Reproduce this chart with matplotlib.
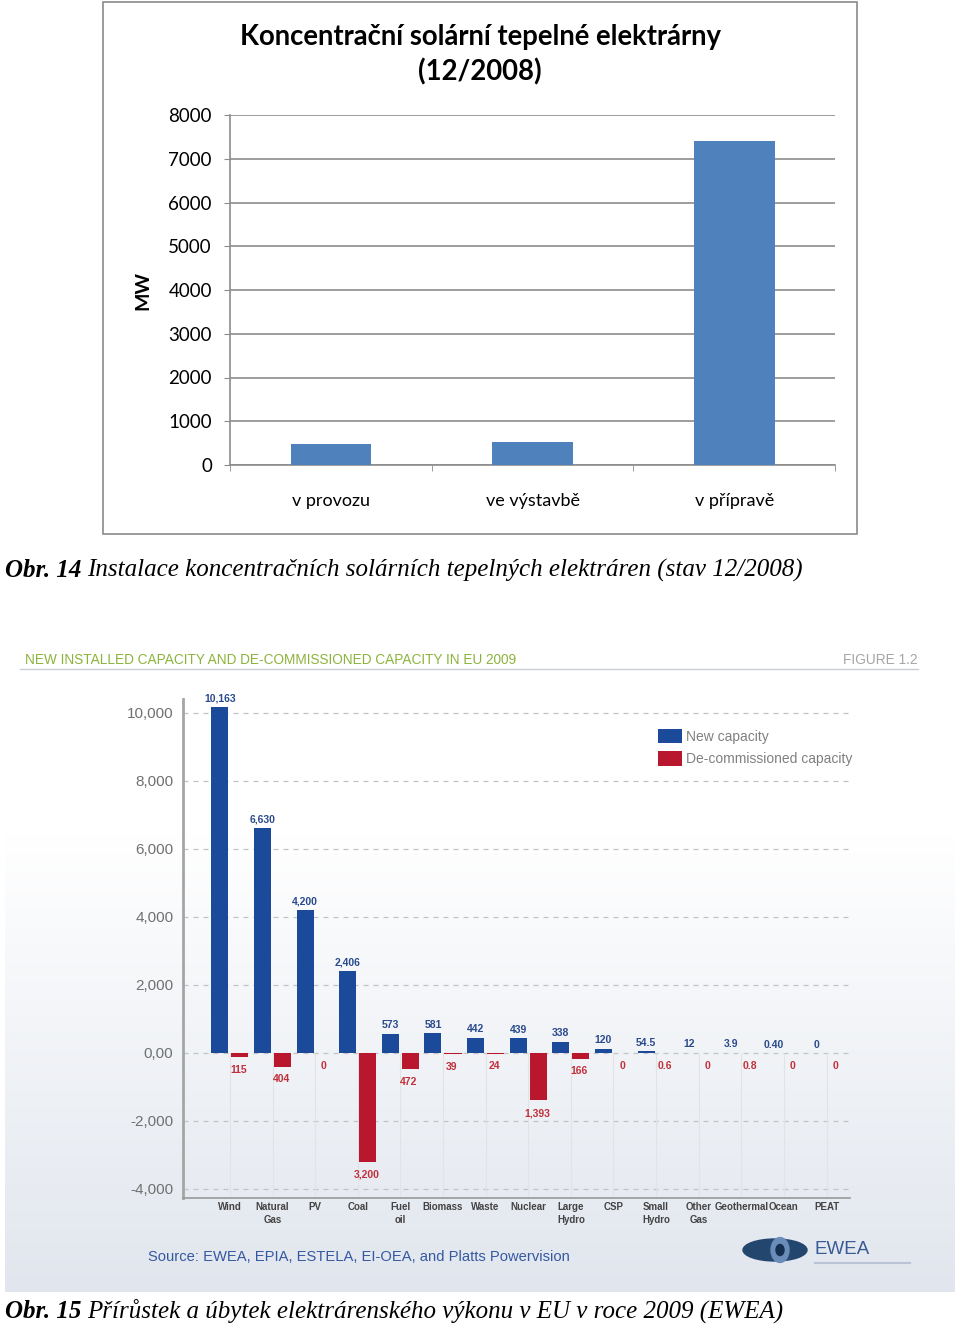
import numpy as np
import matplotlib.pyplot as plt
from matplotlib import font_manager
from matplotlib.colors import LinearSegmentedColormap
from matplotlib.lines import Line2D
from matplotlib.patches import Rectangle, Ellipse, Circle

W, H = 960, 1327

# horni graf: koncentracni solarni elektrarny (MW, stav 12/2008)
csp_stage = ["v provozu", "ve výstavbě", "v přípravě"]
csp_mw = [490, 530, 7410]

# dolni graf: EWEA, EU 2009 (MW)
sources = ["Wind", "Natural\nGas", "PV", "Coal", "Fuel\noil", "Biomass", "Waste",
           "Nuclear", "Large\nHydro", "CSP", "Small\nHydro", "Other\nGas",
           "Geothermal", "Ocean", "PEAT"]
new_cap = [10163, 6630, 4200, 2406, 573, 581, 442, 439, 338, 120, 54.5, 12, 3.9, 0.40, 0]
new_lbl = ["10,163", "6,630", "4,200", "2,406", "573", "581", "442", "439", "338",
           "120", "54.5", "12", "3.9", "0.40", "0"]
decom_cap = [115, 404, 0, 3200, 472, 39, 24, 1393, 166, 0, 0.6, 0, 0.8, 0, 0]
decom_lbl = ["115", "404", "0", "3,200", "472", "39", "24", "1,393", "166", "0",
             "0.6", "0", "0.8", "0", "0"]
yvals = [10000, 8000, 6000, 4000, 2000, 0, -2000, -4000]
ylbls = ["10,000", "8,000", "6,000", "4,000", "2,000", "0,00", "-2,000", "-4,000"]

installed = {f.name for f in font_manager.fontManager.ttflist}
NARROW = "Liberation Sans Narrow" if "Liberation Sans Narrow" in installed else "Liberation Sans"
CAL = "Lato"
SERIF = "Liberation Serif"


def fx(px):
    return px / W


def fy(py):
    return 1 - py / H


def rect(l, t, r, b):
    return [fx(l), fy(b), fx(r) - fx(l), fy(t) - fy(b)]


fig = plt.figure(figsize=(W / 100, H / 100), dpi=100)
rend = fig.canvas.get_renderer()


def fit(t, px):
    # zmensi / zvetsi font tak, aby text mel danou sirku
    w = t.get_window_extent(rend).width
    t.set_fontsize(t.get_fontsize() * px / w)


# ---------- horni graf ----------
fig.patches.append(Rectangle((fx(103), fy(534)), fx(857) - fx(103), fy(2) - fy(534),
                             transform=fig.transFigure, fill=False, ec="#8a8a8a", lw=1.2))

fig.text(fx(480), fy(37), "Koncentrační solární tepelné elektrárny", ha="center",
         va="center", fontsize=19.8, fontweight="bold", family=CAL)
fig.text(fx(480), fy(72), "(12/2008)", ha="center", va="center", fontsize=19.8,
         fontweight="bold", family=CAL)

ax1 = fig.add_axes(rect(230, 115, 835, 465))
x = np.arange(len(csp_stage))
ax1.bar(x, csp_mw, width=0.4, color="#4F81BD", zorder=3)
ax1.set_xlim(-0.5, 2.5)
ax1.set_ylim(0, 8000)
ax1.set_yticks(range(0, 8001, 1000))
ax1.yaxis.grid(True, color="#8c8c8c", lw=1.2)
ax1.set_axisbelow(True)
for s in ["top", "right"]:
    ax1.spines[s].set_visible(False)
for s in ["left", "bottom"]:
    ax1.spines[s].set_color("#8c8c8c")
    ax1.spines[s].set_linewidth(1.2)
ax1.set_xticks(x, csp_stage)
ax1.set_xticks([-0.5, 0.5, 1.5, 2.5], minor=True)
ax1.tick_params(axis="x", which="major", length=0, pad=20, labelsize=13)
ax1.tick_params(axis="x", which="minor", length=4, color="#8c8c8c")
ax1.tick_params(axis="y", length=4, color="#8c8c8c", labelsize=13.5, pad=9)
for lab in ax1.get_xticklabels() + ax1.get_yticklabels():
    lab.set_family(CAL)
fig.text(fx(143), fy(291), "MW", rotation=90, ha="center", va="center",
         fontsize=14, fontweight="bold", family=CAL)


def caption(py, head, rest):
    t = fig.text(fx(5), fy(py), head, fontsize=18, family=SERIF, style="italic",
                 fontweight="bold", va="baseline")
    bb = t.get_window_extent(rend)
    fig.text(bb.x1 / W + fx(6), fy(py), rest, fontsize=18, family=SERIF,
             style="italic", va="baseline")


caption(577, "Obr. 14", "Instalace koncentračních solárních tepelných elektráren (stav 12/2008)")

# ---------- dolni graf ----------
axbg = fig.add_axes(rect(5, 640, 955, 1292), zorder=-5)
cm = LinearSegmentedColormap.from_list("bg", [(0, "#ffffff"), (0.3, "#ffffff"), (1, "#e1e6ee")])
axbg.imshow(np.linspace(0, 1, 256)[:, None], aspect="auto", cmap=cm,
            extent=[0, 1, 0, 1], origin="upper")
axbg.axis("off")

t = fig.text(fx(25), fy(660), "NEW INSTALLED CAPACITY AND DE-COMMISSIONED CAPACITY IN EU 2009",
             color="#8CB43C", fontsize=10, family=NARROW, va="center")
fit(t, 490)
t = fig.text(fx(918), fy(660), "FIGURE 1.2", color="#a5a5a5", fontsize=10,
             family=NARROW, va="center", ha="right")
fit(t, 75)
fig.add_artist(Line2D([fx(20), fx(918)], [fy(669), fy(669)], color="#c9ced8", lw=1))

ax2 = fig.add_axes(rect(183, 699.4, 850, 1197.5))
ax2.set_facecolor("none")
idx = np.arange(len(sources))
off, bw = 0.235, 0.4
ax2.bar(idx - off, new_cap, bw, color="#1B4A9A", label="New capacity", zorder=3)
ax2.bar(idx + off, -np.array(decom_cap), bw, color="#B8172E",
        label="De-commissioned capacity", zorder=3)
for i, (v, l) in enumerate(zip(new_cap, new_lbl)):
    ax2.annotate(l, (i - off, v), xytext=(0, 2.5), textcoords="offset points",
                 ha="center", va="bottom", fontsize=7.5, color="#2A4A8C",
                 fontweight="bold", family=NARROW)
for i, (v, l) in enumerate(zip(decom_cap, decom_lbl)):
    ax2.annotate(l, (i + off, -v), xytext=(-1, -5.5), textcoords="offset points",
                 ha="center", va="top", fontsize=7.5, color="#C0303A",
                 fontweight="bold", family=NARROW)
ax2.vlines(idx, -4250, 0, color="#e3e3e3", lw=0.8, zorder=1)
ax2.set_xlim(-1.1, 14.55)
ax2.set_ylim(-4250, 10400)
ax2.set_yticks(yvals, ylbls)
ax2.yaxis.grid(True, ls=(0, (4, 4)), color="#c3c3c3", lw=0.9)
ax2.set_axisbelow(True)
ax2.tick_params(axis="y", length=0, pad=7, labelsize=11, labelcolor="#707070")
ax2.set_xticks(idx, sources)
ax2.tick_params(axis="x", length=0, pad=3.5, labelsize=7, labelcolor="#444444")
for lab in ax2.get_xticklabels():
    lab.set_fontweight("bold")
    lab.set_family(NARROW)
    lab.set_linespacing(1.35)
for lab in ax2.get_yticklabels():
    lab.set_family(NARROW)
for s in ["top", "right"]:
    ax2.spines[s].set_visible(False)
ax2.spines["left"].set_color("#a5a5a5")
ax2.spines["left"].set_linewidth(2)
ax2.spines["bottom"].set_color("#9a9a9a")
ax2.spines["bottom"].set_linewidth(1.2)

leg = ax2.legend(loc="upper left", bbox_to_anchor=(fx(651), fy(722)),
                 bbox_transform=fig.transFigure, frameon=False, borderpad=0,
                 handlelength=1.75, handleheight=1.2, handletextpad=0.3,
                 labelspacing=0.55, prop={"family": NARROW, "size": 10})
for txt in leg.get_texts():
    txt.set_color("#808080")

t = fig.text(fx(148), fy(1257), "Source: EWEA, EPIA, ESTELA, EI-OEA, and Platts Powervision",
             color="#3559A0", fontsize=10, family=NARROW, va="center")
fit(t, 420)

# logo EWEA
fig.patches.append(Ellipse((fx(775), fy(1250)), fx(64), 22 / H, transform=fig.transFigure,
                           color="#23466f"))
fig.patches.append(Circle((fx(780), fy(1250)), 9 / W, transform=fig.transFigure,
                          color="#6a8cb8"))
fig.patches.append(Circle((fx(780), fy(1250)), 4 / W, transform=fig.transFigure,
                          color="#142f50"))
fig.text(fx(815), fy(1249), "EWEA", color="#3a5a95", fontsize=13.5, family=NARROW,
         va="center")
fig.add_artist(Line2D([fx(815), fx(910)], [fy(1263), fy(1263)], color="#b9c3d3", lw=1.5))

caption(1318, "Obr. 15", "Přírůstek a úbytek elektrárenského výkonu v EU v roce 2009 (EWEA)")

fig.savefig("out.png", dpi=100)
